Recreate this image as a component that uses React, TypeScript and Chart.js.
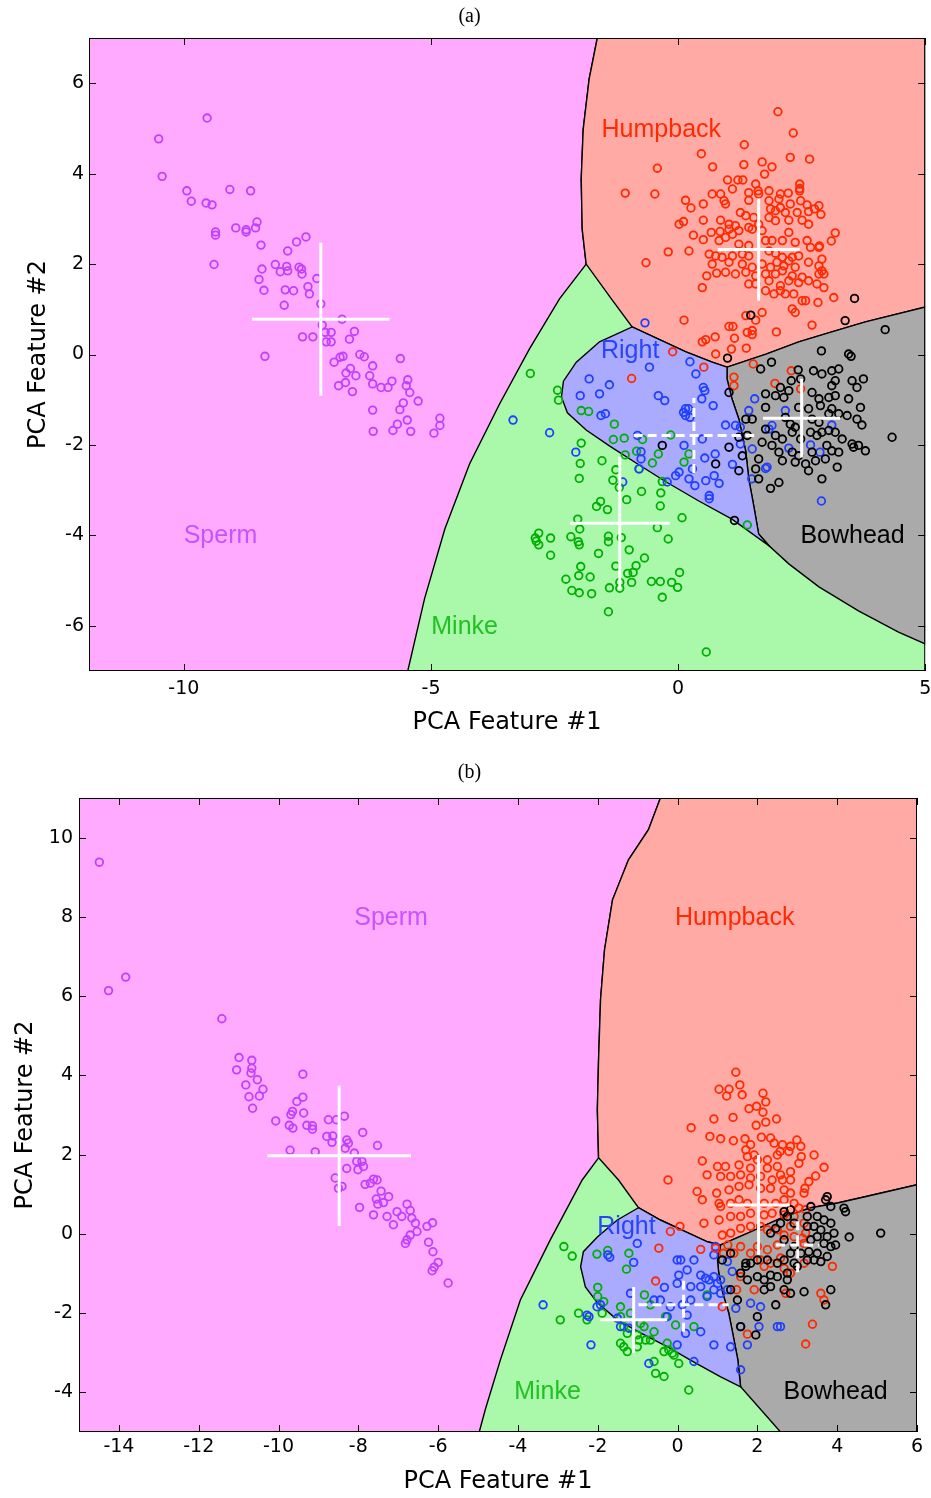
import { useEffect, useRef } from "react";
import { Chart, registerables } from "chart.js";

Chart.register(...registerables);

type Pair = [number, number];

// Species order used throughout: Sperm, Humpback, Right, Minke, Bowhead
const speciesNames = ["Sperm", "Humpback", "Right", "Minke", "Bowhead"];
const pointColors = ["#C040FF", "#FF2A00", "#2040FF", "#00B000", "#000000"];
const labelColors = ["#C653FF", "#FF2A00", "#2844FF", "#22C022", "#000000"];
const regionFills = ["#FFAAFF", "#FFAAA5", "#AAAAFF", "#AAF8AA", "#AAAAAA"];

// ---------------- panel (a) ----------------
const aXTicks = [-10, -5, 0, 5];
const aYTicks = [-6, -4, -2, 0, 2, 4, 6];

const aSperm: Pair[] = [
  [-9.53, 5.23], [-10.51, 4.77], [-10.44, 3.94], [-9.94, 3.62], [-9.85, 3.39], [-9.07, 3.65], [-8.65, 3.62],
  [-9.55, 3.35], [-9.43, 3.31], [-9.36, 2.71], [-9.36, 2.64], [-8.95, 2.8], [-8.74, 2.76], [-8.74, 2.71],
  [-8.55, 2.8], [-8.52, 2.93], [-8.44, 2.42], [-9.39, 1.99], [-7.72, 2.49], [-7.53, 2.6], [-7.9, 2.29],
  [-8.15, 1.99], [-7.92, 1.95], [-8.05, 1.83], [-7.9, 1.85], [-7.67, 1.93], [-7.62, 1.89], [-7.61, 1.78],
  [-8.42, 1.89], [-8.48, 1.66], [-8.38, 1.42], [-7.95, 1.43], [-7.78, 1.41], [-7.49, 1.5], [-7.46, 1.34],
  [-7.31, 1.68], [-7.97, 1.09], [-7.23, 1.12], [-6.8, 0.78], [-7.2, 0.65], [-7.6, 0.39], [-7.39, 0.39],
  [-7.14, 0.49], [-7.02, 0.49], [-7.12, 0.28], [-7.02, 0.28], [-6.55, 0.51], [-6.65, 0.34], [-8.36, -0.04],
  [-6.96, -0.17], [-6.84, -0.06], [-6.78, -0.04], [-6.44, 0.0], [-6.35, -0.05], [-5.62, -0.09], [-6.63, -0.31],
  [-6.72, -0.41], [-6.52, -0.47], [-6.18, -0.25], [-6.24, -0.47], [-6.73, -0.62], [-6.87, -0.69], [-6.59, -0.82],
  [-6.18, -0.65], [-6.01, -0.73], [-5.87, -0.73], [-5.79, -0.59], [-5.47, -0.56], [-5.5, -0.69], [-5.43, -0.84],
  [-5.26, -1.03], [-5.56, -1.07], [-5.63, -1.22], [-6.18, -1.23], [-5.48, -1.45], [-5.68, -1.54], [-5.77, -1.68],
  [-5.41, -1.7], [-6.17, -1.7], [-4.82, -1.41], [-4.82, -1.57], [-4.94, -1.74],
];

const aHumpback: Pair[] = [
  [2.02, 5.37], [2.33, 4.9], [1.34, 4.64], [0.47, 4.44], [2.27, 4.36], [2.66, 4.32], [-0.42, 4.12], [0.7, 4.15],
  [1.33, 4.2], [1.7, 4.26], [1.9, 4.15], [1.75, 3.99], [-1.07, 3.57], [-0.47, 3.55], [0.15, 3.41], [0.51, 3.33],
  [0.26, 3.24], [-0.2, 2.27], [-0.65, 2.03], [0.22, 2.29], [0.51, 2.97], [0.02, 2.88], [0.11, 2.94], [0.31, 2.64],
  [0.51, 2.54], [0.67, 2.7], [0.85, 2.72], [0.49, 1.48], [0.58, 1.74], [0.78, 1.8], [0.12, 0.76], [3.15, 1.26],
  [2.83, 1.15], [2.71, 0.65], [1.99, 0.5], [1.7, 0.93], [1.37, 0.86], [1.03, 0.62], [1.11, 0.62], [1.14, 0.36],
  [1.5, 0.53], [1.5, 0.44], [0.75, 0.39], [0.56, 0.33], [3.18, 2.69], [3.1, 2.51], [2.86, 2.4], [2.89, 3.1],
  [2.61, 3.31], [2.64, 2.88], [2.46, 3.77], [2.46, 3.67], [2.46, 3.62],
  [1.0, 3.86], [1.21, 3.86], [1.31, 3.86], [1.1, 3.66], [1.57, 3.77], [1.62, 3.62], [1.84, 3.62], [1.43, 3.58],
  [1.63, 3.55], [2.07, 3.55], [2.23, 3.57], [0.69, 3.55], [0.86, 3.55], [0.93, 3.4], [0.96, 3.33], [1.43, 3.41],
  [1.84, 3.4], [2.04, 3.44], [2.27, 3.33], [2.48, 3.4], [2.85, 3.29], [2.76, 3.22], [1.26, 3.14], [1.37, 3.07],
  [1.53, 3.03], [1.87, 3.22], [1.97, 3.18], [2.07, 3.25], [2.17, 3.14], [2.41, 3.14], [2.64, 3.16], [0.86, 2.97],
  [1.03, 2.88], [1.16, 2.85], [1.43, 2.81], [1.63, 2.88], [1.84, 3.03], [1.97, 2.96], [2.24, 2.97], [2.51, 2.97],
  [1.03, 2.77], [1.1, 2.66], [1.23, 2.74], [1.5, 2.77], [1.7, 2.74], [2.24, 2.7], [0.83, 2.52], [0.96, 2.59],
  [1.23, 2.44], [1.43, 2.41], [1.77, 2.52], [1.9, 2.52], [2.11, 2.52], [2.37, 2.48], [2.61, 2.52], [2.68, 2.37],
  [2.85, 2.37], [0.63, 2.22], [0.76, 2.18], [0.89, 2.15], [1.1, 2.18], [1.3, 2.22], [1.43, 2.18], [1.84, 2.29],
  [1.97, 2.24], [2.11, 2.15], [2.31, 2.15], [2.44, 2.18], [2.91, 2.11], [0.69, 2.0], [1.03, 2.04], [1.3, 2.0],
  [1.5, 1.93], [1.7, 2.0], [1.87, 1.93], [2.0, 2.04], [2.14, 1.96], [2.24, 2.07], [2.37, 1.93], [2.64, 2.04],
  [2.85, 1.96], [2.91, 1.85], [0.96, 1.82], [1.16, 1.78], [1.37, 1.82], [1.57, 1.74], [1.77, 1.78], [1.97, 1.78],
  [2.11, 1.85], [2.31, 1.74], [2.51, 1.71], [2.64, 1.63], [2.85, 1.78], [2.95, 1.78], [1.43, 1.56], [1.57, 1.56],
  [1.84, 1.63], [2.07, 1.52], [2.24, 1.63], [2.44, 1.59], [2.81, 1.56], [2.95, 1.48], [1.77, 1.41], [1.94, 1.34],
  [2.17, 1.34], [2.34, 1.34], [2.51, 1.19], [2.58, 1.19], [2.31, 1.01], [2.37, 0.93], [2.07, 1.41],
  [1.57, 0.76], [1.4, 0.49], [0.49, 0.28], [1.08, 0.12], [1.38, 0.14], [0.76, 0.01], [-0.11, 0.06], [0.52, -0.28],
  [-0.94, -0.53], [1.52, -0.21], [1.13, -0.5], [1.13, -0.69], [1.96, -0.64], [2.29, -0.36], [2.48, -0.76],
];

const aRight: Pair[] = [
  [-0.67, 0.7], [0.24, -0.16], [-0.58, -0.28], [0.36, -0.43], [-1.8, -0.54], [-1.39, -0.67], [-1.98, -0.91],
  [-1.59, -0.87], [-0.4, -0.91], [-0.27, -1.02], [0.51, -0.73], [0.54, -0.8], [0.48, -0.98], [0.71, -1.13],
  [0.15, -1.2], [0.11, -1.28], [0.21, -1.2], [0.15, -1.35], [0.24, -1.39], [-1.56, -1.35], [-1.47, -1.31],
  [-3.34, -1.45], [-2.6, -1.73], [-2.07, -2.16], [-0.82, -1.79], [-0.75, -2.15], [-0.75, -2.31], [-0.79, -2.53],
  [0.12, -2.01], [0.49, -1.87], [0.75, -2.2], [0.54, -2.29], [0.96, -1.56], [1.16, -1.57], [1.26, -1.61],
  [1.43, -1.24], [1.55, -0.98], [1.9, -1.57], [1.84, -1.65], [2.17, -1.24], [2.24, -2.07], [2.68, -2.0],
  [2.87, -2.16], [3.11, -1.56], [1.1, -2.43], [1.8, -2.49], [1.49, -2.75], [1.5, -2.09], [0.02, -2.6],
  [-0.05, -2.68], [0.22, -2.75], [0.56, -2.79], [0.73, -2.68], [0.83, -2.85], [0.63, -3.12], [0.63, -3.19],
  [0.29, -2.53], [-1.12, -2.82], [-0.22, -2.82], [1.26, -1.98], [2.9, -3.24], [0.34, -2.9], [1.77, -2.52],
];

const aMinke: Pair[] = [
  [-2.99, -0.42], [-2.44, -0.79], [-2.42, -1.01], [-1.96, -1.24], [-1.81, -1.26], [-1.29, -1.54], [-1.96, -1.96],
  [-1.31, -1.88], [-1.09, -1.85], [-0.84, -2.14], [-1.07, -2.22], [-1.98, -2.41], [-1.54, -2.35], [-1.26, -2.55],
  [-2.0, -2.74], [-1.32, -2.78], [-1.19, -2.94], [-0.79, -2.53], [-0.52, -2.4], [-0.4, -2.2], [0.12, -2.38],
  [-0.72, -1.88], [-0.15, -1.78], [0.22, -2.2], [-0.32, -2.81], [-0.35, -3.06], [-0.74, -3.03], [-1.04, -3.21],
  [-1.57, -3.25], [-1.65, -3.36], [-1.43, -3.43], [-0.36, -3.35], [-2.03, -3.64], [-1.99, -3.86], [0.08, -3.61],
  [-0.42, -3.83], [-2.17, -4.03], [-2.02, -4.14], [-2.0, -4.21], [-1.41, -4.02], [-1.41, -4.14], [-1.15, -4.05],
  [-2.82, -3.95], [-2.89, -4.06], [-2.87, -4.13], [-2.82, -4.21], [-2.58, -4.06], [-2.58, -4.44], [-1.61, -4.4],
  [-0.99, -4.32], [-0.2, -4.08], [-0.68, -4.5], [-1.26, -4.68], [-1.97, -4.69], [-0.85, -4.67], [-1.02, -4.84],
  [-0.91, -4.82], [0.03, -4.82], [-2.01, -4.89], [-1.78, -4.92], [-2.27, -4.97], [-1.18, -5.04], [-0.94, -5.04],
  [-0.54, -5.02], [-0.36, -5.02], [-0.13, -5.04], [-0.01, -5.15], [-1.39, -5.16], [-1.18, -5.17], [-2.15, -5.22],
  [-2.0, -5.27], [-1.75, -5.29], [-0.32, -5.37], [-1.41, -5.69], [0.57, -6.58], [1.4, -3.77],
];

const aBowhead: Pair[] = [
  [3.57, 1.24], [1.47, 0.87], [3.38, 0.75], [4.19, 0.55], [2.9, 0.08], [3.45, 0.01], [3.5, -0.04], [1.89, -0.17],
  [1.0, -0.08], [1.67, -0.32], [2.43, -0.34], [2.74, -0.36], [2.91, -0.43], [3.11, -0.36], [3.25, -0.32],
  [2.29, -0.58], [2.48, -0.54], [2.07, -0.73], [2.24, -0.8], [1.03, -0.84], [1.77, -0.87], [1.97, -0.91],
  [2.14, -0.95], [2.71, -0.84], [3.11, -0.69], [3.18, -0.58], [3.52, -0.58], [3.75, -0.54], [3.62, -0.73],
  [2.85, -0.98], [3.05, -0.95], [3.18, -0.91], [3.45, -0.98], [3.69, -1.17], [1.77, -1.17], [1.5, -1.43],
  [1.37, -1.43], [2.44, -1.17], [2.64, -1.2], [2.88, -1.13], [3.11, -1.2], [2.17, -1.39], [2.27, -1.54],
  [2.37, -1.61], [2.71, -1.43], [2.85, -1.5], [3.05, -1.31], [3.25, -1.31], [3.42, -1.35], [3.62, -1.43],
  [3.72, -1.56], [4.33, -1.83], [1.77, -1.65], [1.7, -1.94], [1.97, -1.79], [2.11, -1.87], [2.31, -1.72],
  [2.48, -1.87], [2.68, -1.72], [2.81, -1.79], [2.91, -1.72], [3.05, -1.68], [3.18, -1.72], [3.32, -1.87],
  [3.52, -1.98], [3.65, -2.01], [3.79, -2.13], [1.4, -1.79], [1.23, -1.83], [1.03, -2.05], [-0.32, -2.01],
  [1.9, -2.01], [2.04, -2.16], [2.31, -2.16], [2.44, -2.24], [2.71, -2.16], [3.01, -2.01], [3.11, -2.13],
  [3.25, -2.16], [2.78, -2.35], [2.11, -2.35], [2.37, -2.38], [2.58, -2.42], [2.98, -2.31], [3.22, -2.49],
  [1.63, -2.31], [1.3, -2.24], [0.76, -2.42], [1.23, -2.57], [1.57, -2.53], [1.63, -2.75], [1.87, -2.96],
  [2.04, -2.83], [2.64, -2.57], [2.91, -2.75], [3.55, -2.05], [1.14, -3.67],
];

// class means and one-standard-deviation half-widths (x, y)
const aMeans: Pair[] = [[-7.23, 0.78], [1.63, 2.32], [0.32, -1.79], [-1.18, -3.73], [2.5, -1.41]];
const aSpreads: Pair[] = [[1.39, 1.69], [0.83, 1.13], [1.22, 0.83], [1.01, 1.47], [0.78, 0.87]];
const aDashed = [false, false, true, false, false];

// decision-region boundaries (Minke fills whatever is left)
const aSpermRegion: Pair[] = [
  [-11.92, 7], [-1.635, 7], [-1.8, 6.09], [-1.92, 4.98], [-1.96, 3.88], [-1.94, 2.77], [-1.86, 2.0],
  [-2.4, 1.23], [-3.01, 0.12], [-3.61, -1.09], [-4.22, -2.42], [-4.72, -3.86], [-5.13, -5.4], [-5.47, -7],
  [-11.92, -7],
];
const aHumpbackRegion: Pair[] = [
  [-1.635, 7], [5, 7], [5, 1.05], [3.79, 0.72], [3.11, 0.5], [2.44, 0.28], [1.78, 0.01], [0.99, -0.28],
  [0.69, -0.17], [0.16, 0.06], [-0.32, 0.3], [-0.93, 0.61], [-1.35, 1.23], [-1.86, 2.0], [-1.94, 2.77],
  [-1.96, 3.88], [-1.92, 4.98], [-1.8, 6.09],
];
const aBowheadRegion: Pair[] = [
  [5, 1.05], [5, -6.4], [4.46, -6.14], [3.65, -5.67], [2.85, -5.14], [2.24, -4.63], [1.84, -4.23],
  [1.63, -3.97], [1.53, -3.34], [1.43, -2.75], [1.37, -2.15], [1.23, -1.43], [1.09, -0.98], [0.99, -0.54],
  [0.99, -0.28], [1.78, 0.01], [2.44, 0.28], [3.11, 0.5], [3.79, 0.72],
];
const aRightRegion: Pair[] = [
  [-0.93, 0.61], [-0.32, 0.3], [0.16, 0.06], [0.69, -0.17], [0.99, -0.28], [0.99, -0.54], [1.09, -0.98],
  [1.23, -1.43], [1.37, -2.15], [1.43, -2.75], [1.53, -3.34], [1.63, -3.97], [1.84, -4.23], [1.09, -3.64],
  [0.42, -3.24], [-0.24, -2.82], [-0.85, -2.4], [-1.39, -2.02], [-1.86, -1.67], [-2.24, -1.29], [-2.36, -0.94],
  [-2.32, -0.59], [-2.06, -0.17], [-1.59, 0.28],
];
const aLabelAt: Pair[] = [[-9.26, -4.01], [-0.34, 4.96], [-0.97, 0.08], [-4.32, -6.02], [3.53, -4.01]];

// ---------------- panel (b) ----------------
const bXTicks = [-14, -12, -10, -8, -6, -4, -2, 0, 2, 4, 6];
const bYTicks = [-4, -2, 0, 2, 4, 6, 8, 10];

const bSperm: Pair[] = [
  [-14.49, 9.38], [-14.26, 6.14], [-13.83, 6.48], [-11.42, 5.43], [-10.99, 4.45], [-11.05, 4.14], [-10.67, 4.38],
  [-10.67, 4.18], [-10.69, 4.06], [-10.53, 3.89], [-10.82, 3.76], [-10.39, 3.65], [-10.48, 3.48], [-10.74, 3.46],
  [-10.65, 3.17], [-9.39, 4.03], [-9.39, 3.45], [-9.54, 3.34], [-9.65, 3.09], [-9.69, 3.01], [-9.37, 3.05],
  [-10.07, 2.85], [-9.73, 2.74], [-9.64, 2.67], [-9.29, 2.74], [-9.15, 2.73], [-9.15, 2.64], [-8.75, 2.88],
  [-8.55, 2.88], [-8.35, 2.97], [-8.79, 2.46], [-8.64, 2.47], [-8.66, 2.31], [-8.29, 2.37], [-8.25, 2.29],
  [-8.33, 2.16], [-7.89, 2.56], [-7.52, 2.23], [-9.71, 2.11], [-9.08, 2.07], [-8.1, 2.04], [-8.04, 1.83],
  [-7.91, 1.83], [-8.01, 1.62], [-7.87, 1.7], [-8.29, 1.65], [-8.58, 1.41], [-8.5, 1.15], [-8.41, 1.2],
  [-7.83, 1.25], [-7.7, 1.28], [-7.62, 1.38], [-7.53, 1.36], [-7.43, 1.08], [-7.55, 0.88], [-7.51, 0.75],
  [-7.37, 0.79], [-7.24, 0.94], [-7.97, 0.67], [-7.62, 0.48], [-7.28, 0.44], [-7.12, 0.23], [-7.03, 0.56],
  [-6.91, 0.44], [-6.78, 0.75], [-6.7, 0.59], [-6.66, 0.4], [-6.57, 0.27], [-6.53, 0.06], [-6.7, -0.03],
  [-6.78, -0.15], [-6.82, -0.24], [-6.28, 0.19], [-6.14, 0.28], [-6.24, -0.21], [-6.13, -0.45], [-6.0, -0.72],
  [-6.15, -0.93], [-6.1, -0.84], [-5.75, -1.24],
];

const bHumpback: Pair[] = [
  [1.46, 4.08], [1.56, 3.76], [1.04, 3.65], [1.29, 3.65], [1.23, 3.48], [1.62, 3.51], [2.14, 3.55], [2.21, 3.33],
  [1.98, 3.22], [1.79, 3.16], [2.14, 3.07], [1.39, 2.94], [0.91, 2.9], [2.48, 2.9], [0.34, 2.68], [2.21, 2.82],
  [1.97, 2.74], [0.81, 2.46], [1.08, 2.4], [1.4, 2.35], [1.69, 2.4], [2.1, 2.44], [2.33, 2.42], [2.42, 2.29],
  [2.63, 2.25], [2.83, 2.21], [2.99, 2.37], [3.09, 2.21], [3.1, 1.95], [3.42, 1.99], [3.04, 1.78], [3.67, 1.68],
  [3.46, 1.46], [3.29, 1.32], [3.19, 1.15], [3.17, 1.03], [2.57, 2.08], [2.79, 2.08], [2.5, 1.99], [1.83, 2.25],
  [1.71, 2.12], [1.75, 1.95], [1.92, 1.99], [2.0, 1.87], [2.25, 1.87], [0.62, 1.84], [1.0, 1.7], [1.2, 1.7],
  [1.54, 1.74], [1.83, 1.66], [2.25, 1.66], [2.5, 1.7], [2.58, 1.49], [2.83, 1.57], [0.74, 1.49], [1.08, 1.45],
  [1.33, 1.45], [1.58, 1.49], [1.83, 1.41], [2.08, 1.45], [2.37, 1.36], [2.63, 1.36], [2.83, 1.36], [-0.24, 1.36],
  [0.49, 1.07], [0.62, 0.86], [0.98, 1.03], [1.29, 1.11], [1.54, 1.2], [1.79, 1.24], [2.08, 1.15], [2.33, 1.15],
  [2.67, 1.11], [2.83, 1.03], [1.04, 0.77], [1.08, 0.69], [1.33, 0.77], [1.54, 0.86], [1.75, 0.77], [2.17, 0.77],
  [2.46, 0.77], [2.67, 0.86], [2.92, 0.77], [3.04, 0.65], [3.21, 0.61], [0.66, 0.27], [1.04, 0.35], [1.33, 0.44],
  [1.58, 0.44], [1.83, 0.52], [2.17, 0.48], [2.37, 0.52], [2.67, 0.48], [2.92, 0.44], [3.17, 0.27], [3.21, 0.02],
  [3.13, -0.11], [2.83, 0.19], [0.06, 0.19], [-0.18, 0.06], [-0.47, -0.36], [0.58, -0.39], [1.12, -0.03],
  [1.33, 0.02], [1.58, 0.14], [1.83, 0.19], [2.08, 0.19], [2.25, 0.1], [2.5, 0.1], [2.67, -0.03], [2.92, -0.07],
  [3.17, -0.24], [2.0, -0.32], [2.25, -0.4], [2.5, -0.28], [1.83, -0.49], [2.08, -0.66], [2.17, -0.82],
  [2.33, -0.74], [2.58, -0.61], [2.67, -0.87], [2.83, -0.99], [3.17, -0.74], [3.88, -0.82], [1.58, -0.32],
  [1.41, -0.49], [1.26, -0.28], [1.58, -1.08], [1.48, -1.41], [1.92, -1.41], [2.71, -1.5], [3.59, -1.5],
  [3.67, -1.67], [3.38, -2.28], [3.21, -2.78], [1.75, -2.53], [1.12, -1.84], [-0.55, -1.19], [0.95, -0.36],
  [1.15, -0.49],
];

const bRight: Pair[] = [
  [-1.01, -0.24], [-1.1, -0.72], [-1.75, -0.53], [-1.7, -0.59], [-0.01, -0.66], [0.08, -0.66], [0.41, -0.66],
  [0.24, -0.91], [0.03, -1.04], [0.58, -1.04], [0.7, -1.12], [0.91, -1.08], [0.79, -1.16], [1.0, -1.25],
  [1.08, -1.16], [1.25, -0.7], [1.37, -0.95], [0.95, -0.32], [0.91, -0.53], [-0.33, -1.35], [-0.01, -1.25],
  [0.33, -1.33], [0.58, -1.33], [0.91, -1.41], [1.08, -1.5], [1.25, -1.41], [0.74, -1.58], [0.33, -1.67],
  [0.12, -1.79], [-0.18, -1.84], [-0.43, -1.67], [-0.59, -1.67], [-1.18, -1.5], [-0.26, -2.09], [0.24, -2.05],
  [0.2, -2.51], [0.58, -2.47], [0.91, -2.8], [-0.01, -2.8], [1.33, -2.85], [1.75, -2.8], [1.58, -2.34],
  [1.46, -1.88], [2.08, -1.84], [2.04, -2.34], [1.83, -1.75], [2.5, -2.34], [0.41, -3.22], [-0.72, -3.27],
  [-1.43, -2.34], [-1.93, -1.79], [-2.02, -1.84], [-2.27, -2.05], [-2.22, -2.09], [-2.17, -2.8], [-3.37, -1.79],
  [1.58, -3.43], [-1.51, -2.13], [-1.22, -2.38], [2.58, -2.34],
];

const bMinke: Pair[] = [
  [-2.85, -0.32], [-2.64, -0.56], [-2.02, -0.51], [-1.75, -0.42], [-1.22, -0.49], [-1.28, -0.89], [-2.0, -1.35],
  [-2.0, -1.58], [-1.85, -1.71], [-1.43, -1.84], [-0.83, -1.54], [-0.68, -1.79], [-2.48, -2.0], [-2.27, -2.17],
  [-2.94, -2.17], [-1.89, -2.0], [-1.43, -2.09], [-1.18, -2.0], [-0.93, -2.26], [-1.35, -2.34], [-1.26, -2.51],
  [-1.01, -2.55], [-0.84, -2.34], [-0.59, -2.47], [-0.68, -2.68], [-0.3, -2.09], [-0.05, -2.3], [0.41, -2.34],
  [-0.8, -2.68], [-1.43, -2.76], [-1.35, -2.85], [-1.26, -2.97], [-1.01, -2.85], [-0.97, -2.68], [-0.26, -2.76],
  [-0.22, -2.93], [-0.34, -2.97], [-0.13, -3.01], [-0.09, -3.06], [0.03, -3.27], [-0.59, -3.22], [-0.55, -3.52],
  [-0.34, -3.6], [0.28, -3.94], [0.74, -1.54],
];

const bBowhead: Pair[] = [
  [3.75, 0.94], [3.71, 0.86], [3.84, 0.69], [4.17, 0.65], [4.21, 0.56], [5.09, 0.02], [4.3, -0.08], [3.34, 0.69],
  [3.25, 0.44], [3.5, 0.44], [3.67, 0.35], [3.84, 0.27], [3.92, 0.02], [3.75, -0.07], [3.59, 0.1], [3.42, 0.19],
  [3.25, 0.19], [3.5, -0.07], [3.67, -0.24], [3.84, -0.32], [3.96, -0.28], [3.34, -0.15], [2.92, 0.27],
  [2.75, 0.44], [2.67, 0.56], [2.83, 0.61], [2.58, 0.27], [2.46, 0.14], [2.33, 0.02], [2.67, -0.15], [2.92, -0.32],
  [3.09, -0.49], [3.25, -0.66], [3.42, -0.66], [3.59, -0.7], [3.75, -0.57], [3.5, -0.49], [3.29, -0.45],
  [2.83, -0.49], [2.92, -0.74], [3.0, -0.82], [2.67, -0.66], [2.5, -0.74], [2.25, -0.66], [2.0, -0.66],
  [1.83, -0.74], [1.71, -0.82], [1.58, -0.99], [1.75, -1.16], [2.0, -1.08], [2.17, -1.16], [2.33, -1.04],
  [2.5, -1.08], [2.75, -0.99], [2.33, -1.33], [2.17, -1.41], [2.67, -1.41], [2.83, -1.5], [3.17, -1.46],
  [3.84, -1.41], [3.71, -1.79], [2.46, -1.79], [2.0, -2.09], [1.96, -2.55], [1.58, -2.34], [1.5, -1.67],
  [1.33, -1.41], [2.75, -1.16], [1.33, -0.49], [1.12, -0.66], [1.71, -0.74],
];

const bMeans: Pair[] = [[-8.48, 1.97], [2.03, 0.73], [0.15, -1.79], [-1.1, -2.17], [3.01, -0.28]];
const bSpreads: Pair[] = [[1.8, 1.77], [0.78, 1.26], [1.13, 0.68], [0.84, 0.83], [0.54, 0.69]];
const bDashed = [false, false, true, false, true];

const bSpermRegion: Pair[] = [
  [-15, 11], [-0.43, 11], [-0.73, 10.2], [-1.23, 9.44], [-1.63, 8.43], [-1.83, 7.17], [-1.93, 5.91],
  [-1.98, 4.39], [-2.01, 3.13], [-1.98, 1.92], [-2.39, 1.36], [-3.19, -0.15], [-3.94, -1.67], [-4.44, -3.18],
  [-4.82, -4.44], [-4.97, -5], [-15, -5],
];
const bHumpbackRegion: Pair[] = [
  [-0.43, 11], [6, 11], [6, 1.24], [4.67, 0.93], [4.01, 0.78], [3.34, 0.66], [2.66, 0.43], [1.83, 0.05],
  [1.08, -0.28], [0.75, -0.2], [0.25, 0.03], [-0.43, 0.35], [-0.98, 0.66], [-1.48, 1.36], [-1.98, 1.92],
  [-2.01, 3.13], [-1.98, 4.39], [-1.93, 5.91], [-1.83, 7.17], [-1.63, 8.43], [-1.23, 9.44], [-0.73, 10.2],
];
const bBowheadRegion: Pair[] = [
  [6, 1.24], [6, -5], [2.58, -5], [1.58, -3.86], [1.51, -3.18], [1.38, -2.5], [1.28, -1.99], [1.13, -1.49],
  [1.03, -0.98], [1.0, -0.66], [1.08, -0.28], [1.83, 0.05], [2.66, 0.43], [3.34, 0.66], [4.01, 0.78],
  [4.67, 0.93],
];
const bRightRegion: Pair[] = [
  [-0.98, 0.66], [-0.43, 0.35], [0.25, 0.03], [0.75, -0.2], [1.08, -0.28], [1.0, -0.66], [1.03, -0.98],
  [1.13, -1.49], [1.28, -1.99], [1.38, -2.5], [1.51, -3.18], [1.58, -3.86], [1.08, -3.61], [0.4, -3.23],
  [-0.25, -2.85], [-0.93, -2.5], [-1.51, -2.17], [-2.01, -1.74], [-2.31, -1.34], [-2.43, -0.83], [-2.36, -0.45],
  [-2.01, -0.08], [-1.51, 0.35],
];
const bLabelAt: Pair[] = [[-7.18, 7.98], [1.43, 7.98], [-1.28, 0.18], [-3.26, -3.99], [3.96, -3.99]];

// ---------------- chart construction ----------------
interface PanelLayout {
  height: number;
  padRight: number;
  padTop: number;
  yWidth: number;
  xHeight: number;
  xTickPad: number;
  yTickPad: number;
  xTitlePad: number;
  yTitlePad: number;
}

interface Panel {
  xRange: Pair;
  yRange: Pair;
  xTicks: number[];
  yTicks: number[];
  points: Pair[][];
  means: Pair[];
  spreads: Pair[];
  dashed: boolean[];
  regions: { kind: number; poly: Pair[] }[];
  labelAt: Pair[];
  layout: PanelLayout;
}

const panelA: Panel = {
  xRange: [-11.92, 5],
  yRange: [-7, 7],
  xTicks: aXTicks,
  yTicks: aYTicks,
  points: [aSperm, aHumpback, aRight, aMinke, aBowhead],
  means: aMeans,
  spreads: aSpreads,
  dashed: aDashed,
  regions: [
    { kind: 0, poly: aSpermRegion },
    { kind: 1, poly: aHumpbackRegion },
    { kind: 4, poly: aBowheadRegion },
    { kind: 2, poly: aRightRegion },
  ],
  labelAt: aLabelAt,
  layout: { height: 750, padRight: 4, padTop: 38, yWidth: 89, xHeight: 79, xTickPad: 7, yTickPad: 5, xTitlePad: 13, yTitlePad: 24 },
};

const panelB: Panel = {
  xRange: [-15, 6],
  yRange: [-5, 11],
  xTicks: bXTicks,
  yTicks: bYTicks,
  points: [bSperm, bHumpback, bRight, bMinke, bBowhead],
  means: bMeans,
  spreads: bSpreads,
  dashed: bDashed,
  regions: [
    { kind: 0, poly: bSpermRegion },
    { kind: 1, poly: bHumpbackRegion },
    { kind: 4, poly: bBowheadRegion },
    { kind: 2, poly: bRightRegion },
  ],
  labelAt: bLabelAt,
  layout: { height: 748, padRight: 14, padTop: 48, yWidth: 79, xHeight: 66, xTickPad: 4, yTickPad: 6, xTitlePad: 2, yTitlePad: 11 },
};

const axisFont = '"DejaVu Sans", "Liberation Sans", sans-serif';
const labelFont = '25px "Liberation Sans", Arial, sans-serif';

function regionPlugin(p: Panel) {
  return {
    id: "decisionRegions",
    beforeDatasetsDraw(chart: any) {
      const { ctx, chartArea: a } = chart;
      const sx = chart.scales.x;
      const sy = chart.scales.y;
      ctx.save();
      ctx.beginPath();
      ctx.rect(a.left, a.top, a.right - a.left, a.bottom - a.top);
      ctx.clip();
      ctx.fillStyle = regionFills[3];
      ctx.fillRect(a.left, a.top, a.right - a.left, a.bottom - a.top);
      for (const r of p.regions) {
        ctx.beginPath();
        r.poly.forEach(([x, y], i) => {
          const px = sx.getPixelForValue(x);
          const py = sy.getPixelForValue(y);
          if (i === 0) ctx.moveTo(px, py);
          else ctx.lineTo(px, py);
        });
        ctx.closePath();
        ctx.fillStyle = regionFills[r.kind];
        ctx.fill();
        ctx.strokeStyle = "#000";
        ctx.lineWidth = 1.4;
        ctx.stroke();
      }
      ctx.font = labelFont;
      ctx.textAlign = "center";
      ctx.textBaseline = "middle";
      p.labelAt.forEach(([x, y], k) => {
        ctx.fillStyle = labelColors[k];
        ctx.fillText(speciesNames[k], sx.getPixelForValue(x), sy.getPixelForValue(y));
      });
      ctx.restore();
    },
    afterDatasetsDraw(chart: any) {
      const { ctx, chartArea: a } = chart;
      const sx = chart.scales.x;
      const sy = chart.scales.y;
      const tick = 7;
      ctx.save();
      ctx.strokeStyle = "#000";
      ctx.lineWidth = 1;
      ctx.strokeRect(a.left + 0.5, a.top + 0.5, a.right - a.left - 1, a.bottom - a.top - 1);
      ctx.beginPath();
      for (const v of p.xTicks) {
        const x = Math.round(sx.getPixelForValue(v)) + 0.5;
        ctx.moveTo(x, a.bottom);
        ctx.lineTo(x, a.bottom - tick);
        ctx.moveTo(x, a.top);
        ctx.lineTo(x, a.top + tick);
      }
      for (const v of p.yTicks) {
        const y = Math.round(sy.getPixelForValue(v)) + 0.5;
        ctx.moveTo(a.left, y);
        ctx.lineTo(a.left + tick, y);
        ctx.moveTo(a.right, y);
        ctx.lineTo(a.right - tick, y);
      }
      ctx.stroke();
      ctx.restore();
    },
  };
}

function buildConfig(p: Panel): any {
  const L = p.layout;
  const datasets: any[] = [];
  // white mean ± spread crosses, drawn on top
  p.means.forEach(([cx, cy], k) => {
    const [hw, hh] = p.spreads[k];
    const common = {
      type: "scatter",
      showLine: true,
      borderColor: "#FFFFFF",
      borderWidth: 3,
      pointRadius: 0,
      borderDash: p.dashed[k] ? [9, 5] : [],
      order: 0,
    };
    datasets.push({ ...common, label: speciesNames[k] + " mean x", data: [{ x: cx - hw, y: cy }, { x: cx + hw, y: cy }] });
    datasets.push({ ...common, label: speciesNames[k] + " mean y", data: [{ x: cx, y: cy - hh }, { x: cx, y: cy + hh }] });
  });
  [4, 1, 2, 3, 0].forEach((k) => {
    datasets.push({
      type: "scatter",
      label: speciesNames[k],
      data: p.points[k].map(([x, y]) => ({ x, y })),
      showLine: false,
      pointRadius: 3.8,
      pointBorderWidth: 1.8,
      pointBorderColor: pointColors[k],
      pointBackgroundColor: "rgba(0,0,0,0)",
      borderColor: pointColors[k],
      backgroundColor: "rgba(0,0,0,0)",
      order: 1,
    });
  });

  return {
    type: "scatter",
    data: { datasets },
    options: {
      responsive: false,
      maintainAspectRatio: false,
      animation: false,
      devicePixelRatio: 1,
      events: [],
      layout: { padding: { left: 0, right: L.padRight, top: L.padTop, bottom: 0 } },
      plugins: {
        legend: { display: false },
        tooltip: { enabled: false },
        title: { display: false },
      },
      scales: {
        x: {
          type: "linear",
          position: "bottom",
          min: p.xRange[0],
          max: p.xRange[1],
          afterBuildTicks: (s: any) => {
            s.ticks = p.xTicks.map((v) => ({ value: v }));
          },
          afterFit: (s: any) => {
            s.height = L.xHeight;
            s.paddingLeft = 0;
            s.paddingRight = 0;
          },
          grid: { display: false, drawTicks: false },
          border: { display: false },
          ticks: {
            color: "#000",
            font: { family: axisFont, size: 19 },
            padding: L.xTickPad,
            autoSkip: false,
            maxRotation: 0,
            minRotation: 0,
            callback: (v: number) => String(v),
          },
          title: {
            display: true,
            text: "PCA Feature #1",
            color: "#000",
            font: { family: axisFont, size: 24 },
            padding: { top: 0, bottom: L.xTitlePad },
          },
        },
        y: {
          type: "linear",
          position: "left",
          min: p.yRange[0],
          max: p.yRange[1],
          afterBuildTicks: (s: any) => {
            s.ticks = p.yTicks.map((v) => ({ value: v }));
          },
          afterFit: (s: any) => {
            s.width = L.yWidth;
            s.paddingTop = 0;
            s.paddingBottom = 0;
          },
          grid: { display: false, drawTicks: false },
          border: { display: false },
          ticks: {
            color: "#000",
            font: { family: axisFont, size: 19 },
            padding: L.yTickPad,
            autoSkip: false,
            callback: (v: number) => String(v),
          },
          title: {
            display: true,
            text: "PCA Feature #2",
            color: "#000",
            font: { family: axisFont, size: 24 },
            padding: { top: L.yTitlePad, bottom: 0 },
          },
        },
      },
    },
    plugins: [regionPlugin(p)],
  };
}

function PanelChart({ panel, top }: { panel: Panel; top: number }) {
  const ref = useRef<HTMLCanvasElement | null>(null);
  useEffect(() => {
    if (!ref.current) return;
    const chart = new Chart(ref.current, buildConfig(panel));
    return () => chart.destroy();
  }, [panel]);
  return (
    <canvas
      ref={ref}
      width={931}
      height={panel.layout.height}
      style={{ position: "absolute", left: 0, top, width: 931, height: panel.layout.height }}
    />
  );
}

const captionStyle = {
  position: "absolute" as const,
  left: 4,
  width: 931,
  textAlign: "center" as const,
  font: '20px "Liberation Serif", "Times New Roman", serif',
  color: "#000",
  lineHeight: "23px",
};

export default function App() {
  return (
    <div style={{ position: "absolute", left: 0, top: 0, width: 931, height: 1498, background: "#fff", overflow: "hidden" }}>
      <PanelChart panel={panelA} top={0} />
      <PanelChart panel={panelB} top={750} />
      <div style={{ ...captionStyle, top: 4 }}>(a)</div>
      <div style={{ ...captionStyle, top: 760 }}>(b)</div>
    </div>
  );
}
